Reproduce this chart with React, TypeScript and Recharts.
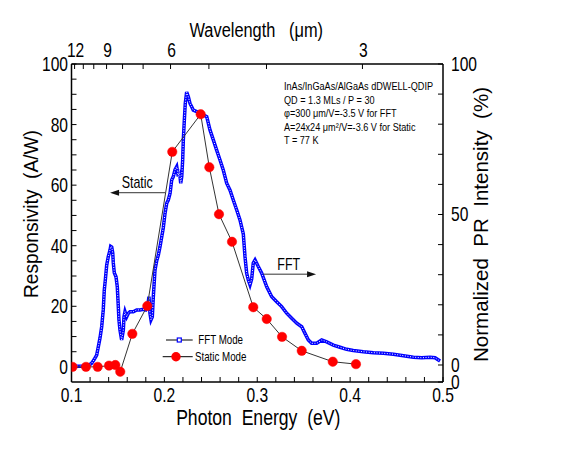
import React from "react";
import { ComposedChart, Line, XAxis, YAxis, ReferenceLine, ReferenceDot, Legend } from "recharts";

// photon energy (eV) vs normalized PR intensity (%) for the FFT spectrum
const fftEnergy = [
  0.1005, 0.1092, 0.1178, 0.1217, 0.1242, 0.1271, 0.1289, 0.1307, 0.1325, 0.1342,
  0.1353, 0.1364, 0.1379, 0.1396, 0.1415, 0.1422, 0.1433, 0.1444, 0.145, 0.1461,
  0.1479, 0.1493, 0.1504, 0.1511, 0.1522, 0.154, 0.1558, 0.1565, 0.1576, 0.1594,
  0.1612, 0.163, 0.1665, 0.1702, 0.1738, 0.1773, 0.1799, 0.182, 0.1834, 0.1845,
  0.1856, 0.187, 0.1881, 0.1899, 0.1917, 0.1935, 0.1953, 0.1988, 0.2007, 0.2025,
  0.2042, 0.2061, 0.2079, 0.2096, 0.2114, 0.2133, 0.215, 0.2161, 0.2176, 0.2187,
  0.2197, 0.2204, 0.2215, 0.2225, 0.224, 0.2258, 0.2276, 0.2294, 0.2311, 0.2348,
  0.2384, 0.2419, 0.2456, 0.2491, 0.2527, 0.2563, 0.2599, 0.2634, 0.2671, 0.2707,
  0.2742, 0.2779, 0.2814, 0.285, 0.2868, 0.2886, 0.2904, 0.2922, 0.294, 0.2957,
  0.2976, 0.3011, 0.3048, 0.3102, 0.3156, 0.3209, 0.3263, 0.3317, 0.3371, 0.3425,
  0.3479, 0.3514, 0.355, 0.3586, 0.364, 0.3694, 0.3748, 0.3819, 0.3891, 0.3963,
  0.4034, 0.4142, 0.425, 0.4358, 0.4466, 0.4574, 0.4681, 0.4771, 0.4861, 0.4914,
  0.4968,
];
const fftIntensity = [
  -0.4, -0.4, -0.3, 0.6, 1.7, 3.3, 6.1, 9.0, 12.7, 18.3,
  24.9, 28.2, 33.2, 36.0, 38.2, 39.4, 39.2, 37.2, 33.9, 30.6,
  29.3, 26.0, 19.4, 15.0, 11.6, 8.3, 11.6, 16.0, 17.7, 16.0,
  17.2, 17.7, 17.7, 18.3, 18.3, 18.5, 18.3, 19.4, 22.7, 17.2,
  15.0, 16.0, 22.7, 31.6, 34.6, 36.5, 39.3, 45.5, 50.4, 53.7,
  54.8, 57.0, 61.5, 62.6, 64.8, 65.9, 62.6, 64.8, 60.4, 62.6,
  68.1, 74.8, 81.4, 86.9, 90.7, 89.1, 86.9, 85.8, 84.7, 84.2,
  83.6, 83.1, 82.5, 78.1, 74.8, 71.4, 68.1, 64.8, 60.4, 58.1,
  54.8, 51.5, 48.2, 43.5, 36.0, 30.5, 28.2, 26.6, 28.6, 33.9,
  34.9, 32.7, 30.5, 26.0, 22.7, 21.0, 19.4, 17.2, 15.5, 13.9,
  12.7, 10.5, 8.3, 7.2, 7.2, 8.3, 7.7, 6.6, 5.9, 5.2,
  4.8, 4.4, 4.1, 3.9, 3.6, 3.1, 2.6, 2.4, 2.6, 2.4,
  1.3,
];

// photon energy (eV) vs responsivity (A/W) for the static measurement
const staticEnergy = [
  0.1011, 0.1156, 0.1282, 0.1404, 0.1472, 0.1525, 0.1655, 0.1816, 0.2085, 0.2391,
  0.2484, 0.2588, 0.2728, 0.2957, 0.3102, 0.3267, 0.3479, 0.3813, 0.4063,
];
const staticResponsivity = [
  0, 0, 0, 0.4, 0.6, -1.6, 10.9, 20.1, 71.0, 83.4,
  65.9, 50.4, 41.3, 19.7, 15.8, 9.9, 5.3, 1.7, 0.9,
];

const energyTicks = [
  0.1, 0.12, 0.14, 0.16, 0.18, 0.2, 0.22, 0.24, 0.26, 0.28, 0.3,
  0.32, 0.34, 0.36, 0.38, 0.4, 0.42, 0.44, 0.46, 0.48, 0.5,
];
const energyLabels = [0.1, 0.2, 0.3, 0.4, 0.5];
const wavelengthTicks = [12, 11, 10, 9, 8, 7, 6, 5, 4, 3];
const wavelengthLabels = [12, 9, 6, 3];
const responsivityTicks = [
  0, 5, 10, 15, 20, 25, 30, 35, 40, 45, 50, 55, 60, 65, 70, 75, 80, 85, 90, 95, 100,
];
const responsivityLabels = [0, 20, 40, 60, 80, 100];
const prTicks = [-5.65, 0, 10, 20, 30, 40, 50, 60, 70, 80, 90, 100];
const prLabels = [0, 50, 100];

const infoLines = [
  "InAs/InGaAs/AlGaAs dDWELL-QDIP",
  "QD = 1.3 MLs / P = 30",
  "\u03c6=300 \u03bcm/V=-3.5 V for FFT",
  "A=24x24 \u03bcm\u00b2/V=-3.6 V for Static",
  "T = 77 K",
];

const fftData = fftEnergy.map((e, i) => ({ e, v: fftIntensity[i] }));
const staticData = staticEnergy.map((e, i) => ({ e, v: staticResponsivity[i] }));

const HC = 1.2398; // eV·µm
const SQ = 0.78; // the figure's text is horizontally condensed
const FONT = "Arial, 'Liberation Sans', sans-serif";

const W = 561;
const H = 434;
const PLOT_LEFT = 63.5;
const PLOT_RIGHT = 435;
const PLOT_TOP = 56;
const PLOT_BOTTOM = 374;
const PLOT_CX = (PLOT_LEFT + PLOT_RIGHT) / 2;

const near = (list: number[], v: number) => list.some((l) => Math.abs(l - v) < 1e-6);

function SqText({ x, y, anchor = "start", size, sx = SQ, children }: any) {
  return (
    <text
      transform={`translate(${x} ${y}) scale(${sx} 1)`}
      textAnchor={anchor}
      fontSize={size}
      fontFamily={FONT}
      fill="#000"
      style={{ whiteSpace: "pre" }}
    >
      {children}
    </text>
  );
}

const bottomTick = (p: any) =>
  near(energyLabels, p.payload.value) ? (
    <SqText x={p.x} y={p.y + 19.5} anchor="middle" size={20}>
      {String(p.payload.value)}
    </SqText>
  ) : (
    <g />
  );

const topTick = (p: any) => {
  const lambda = Math.round(HC / p.payload.value);
  return wavelengthLabels.includes(lambda) ? (
    <SqText x={p.x + 1} y={p.y - 7.3} anchor="middle" size={20}>
      {String(lambda)}
    </SqText>
  ) : (
    <g />
  );
};

const leftTick = (p: any) =>
  near(responsivityLabels, p.payload.value) ? (
    <SqText x={p.x - 3.5} y={p.y + 7} anchor="end" size={20}>
      {String(p.payload.value)}
    </SqText>
  ) : (
    <g />
  );

const rightTick = (p: any) => {
  const v = p.payload.value;
  if (v < 0) {
    return (
      <SqText x={p.x + 8} y={p.y + 7} size={20}>
        0
      </SqText>
    );
  }
  return near(prLabels, v) ? (
    <SqText x={p.x + 8} y={p.y + 7} size={20}>
      {String(v)}
    </SqText>
  ) : (
    <g />
  );
};

const arrowShape = (props: any) => {
  const { x1, y1, x2, y2 } = props;
  const dx = x2 - x1;
  const dy = y2 - y1;
  const len = Math.hypot(dx, dy) || 1;
  const ux = dx / len;
  const uy = dy / len;
  const hl = 9;
  const hw = 3;
  const bx = x2 - ux * hl;
  const by = y2 - uy * hl;
  return (
    <g>
      <line x1={x1} y1={y1} x2={bx} y2={by} stroke="#333" strokeWidth={1} />
      <polygon
        points={`${x2},${y2} ${bx - uy * hw},${by + ux * hw} ${bx + uy * hw},${by - ux * hw}`}
        fill="#111"
      />
    </g>
  );
};

const renderLegend = () => (
  <svg width={110} height={36}>
    <line x1={6} y1={10} x2={32.7} y2={10} stroke="#000" strokeWidth={1} />
    <rect x={17.3} y={8} width={4} height={4} fill="#fff" stroke="#0000ff" strokeWidth={1.2} />
    <SqText x={38.3} y={14.4} size={12.5}>
      FFT Mode
    </SqText>
    <line x1={2.7} y1={26.7} x2={32.7} y2={26.7} stroke="#000" strokeWidth={1} />
    <circle cx={16} cy={26.7} r={4.7} fill="#ff0000" />
    <SqText x={35} y={31} size={12.5}>
      Static Mode
    </SqText>
  </svg>
);

export default function App() {
  return (
    <div style={{ width: W, height: H }}>
      <ComposedChart width={W} height={H} margin={{ top: 0, right: 0, bottom: 0, left: 0 }}>
        <XAxis
          xAxisId="bottom"
          dataKey="e"
          type="number"
          scale="linear"
          domain={[0.1, 0.5]}
          allowDataOverflow
          ticks={energyTicks}
          interval={0}
          height={H - PLOT_BOTTOM}
          axisLine={{ stroke: "#000", strokeWidth: 1.5 }}
          tickLine={{ stroke: "#000" }}
          tickSize={-5}
          tickMargin={5}
          tick={bottomTick}
          label={() => (
            <SqText x={PLOT_CX + 1} y={417} anchor="middle" size={22} sx={0.8}>
              {"Photon  Energy  (eV)"}
            </SqText>
          )}
        />
        <XAxis
          xAxisId="top"
          orientation="top"
          dataKey="e"
          type="number"
          scale="linear"
          domain={[0.1, 0.5]}
          allowDataOverflow
          ticks={wavelengthTicks.map((w) => HC / w)}
          interval={0}
          height={PLOT_TOP}
          axisLine={{ stroke: "#000", strokeWidth: 1.5 }}
          tickLine={{ stroke: "#000" }}
          tickSize={-5}
          tickMargin={5}
          tick={topTick}
          label={() => (
            <SqText x={PLOT_CX - 1} y={28.7} anchor="middle" size={21}>
              {"Wavelength   (\u03bcm)"}
            </SqText>
          )}
        />
        <YAxis
          yAxisId="left"
          orientation="left"
          type="number"
          domain={[-5, 100]}
          allowDataOverflow
          ticks={responsivityTicks}
          interval={0}
          width={PLOT_LEFT}
          axisLine={{ stroke: "#000", strokeWidth: 1.5 }}
          tickLine={{ stroke: "#000" }}
          tickSize={-5}
          tickMargin={5}
          tick={leftTick}
          label={() => (
            <text
              transform="translate(29.5 206) rotate(-90)"
              textAnchor="middle"
              fontSize={20}
              fontFamily={FONT}
              fill="#000"
              textLength={168}
              lengthAdjust="spacingAndGlyphs"
              style={{ whiteSpace: "pre" }}
            >
              {"Responsivity  (A/W)"}
            </text>
          )}
        />
        <YAxis
          yAxisId="right"
          orientation="right"
          type="number"
          domain={[-5.65, 100]}
          allowDataOverflow
          ticks={prTicks}
          interval={0}
          width={W - PLOT_RIGHT}
          axisLine={{ stroke: "#000", strokeWidth: 1.5 }}
          tickLine={{ stroke: "#000" }}
          tickSize={-5}
          tickMargin={5}
          tick={rightTick}
          label={() => (
            <text
              transform="translate(480 216.5) rotate(-90)"
              textAnchor="middle"
              fontSize={21}
              fontFamily={FONT}
              fill="#000"
              textLength={275}
              lengthAdjust="spacingAndGlyphs"
              style={{ whiteSpace: "pre" }}
            >
              {"Normalized  PR  Intensity  (%)"}
            </text>
          )}
        />

        <Line
          xAxisId="bottom"
          yAxisId="right"
          data={fftData}
          dataKey="v"
          type="linear"
          stroke="#0000ff"
          strokeWidth={3.5}
          dot={false}
          legendType="none"
          isAnimationActive={false}
        />
        <Line
          xAxisId="bottom"
          yAxisId="right"
          data={fftData}
          dataKey="v"
          type="linear"
          stroke="#ffffff"
          strokeWidth={1}
          strokeDasharray="1 1.6"
          dot={false}
          legendType="none"
          isAnimationActive={false}
        />
        <Line
          xAxisId="bottom"
          yAxisId="left"
          data={staticData}
          dataKey="v"
          type="linear"
          stroke="#333"
          strokeWidth={1}
          dot={{ r: 4.7, fill: "#ff0000", stroke: "#ff0000", strokeWidth: 0.5 }}
          legendType="none"
          isAnimationActive={false}
        />

        <ReferenceLine
          xAxisId="bottom"
          yAxisId="left"
          segment={[
            { x: 0.2007, y: 57.5 },
            { x: 0.1415, y: 57.5 },
          ]}
          shape={arrowShape}
        />
        <ReferenceLine
          xAxisId="bottom"
          yAxisId="left"
          segment={[
            { x: 0.3065, y: 30.6 },
            { x: 0.3633, y: 30.6 },
          ]}
          shape={arrowShape}
        />
        <ReferenceDot
          xAxisId="bottom"
          yAxisId="left"
          x={0.154}
          y={59.1}
          shape={(p: any) => (
            <SqText x={p.cx} y={p.cy} size={16}>
              Static
            </SqText>
          )}
        />
        <ReferenceDot
          xAxisId="bottom"
          yAxisId="left"
          x={0.3216}
          y={32.0}
          shape={(p: any) => (
            <SqText x={p.cx} y={p.cy} size={16}>
              FFT
            </SqText>
          )}
        />
        <ReferenceDot
          xAxisId="bottom"
          yAxisId="left"
          x={0.3288}
          y={91.4}
          shape={(p: any) => (
            <g>
              {infoLines.map((t, i) => (
                <SqText key={t} x={p.cx} y={p.cy + i * 13.6} size={11.7}>
                  {t}
                </SqText>
              ))}
            </g>
          )}
        />

        <Legend
          layout="vertical"
          align="center"
          verticalAlign="middle"
          content={renderLegend}
          wrapperStyle={{ position: "absolute", left: 152, top: 322, width: 110, height: 36 }}
        />
      </ComposedChart>
    </div>
  );
}
